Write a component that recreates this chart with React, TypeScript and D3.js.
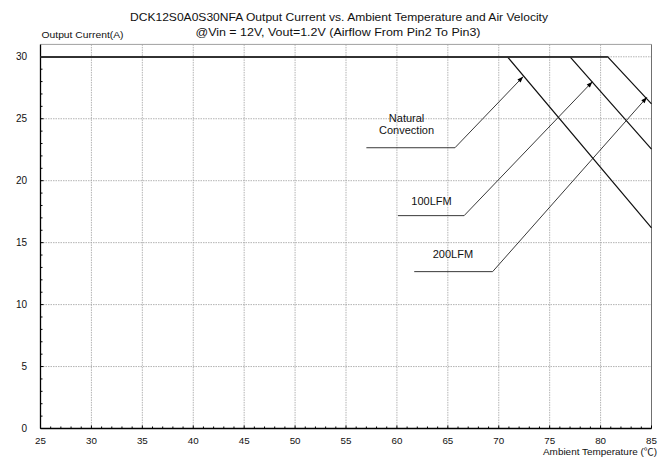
import React from "react";
import * as d3 from "d3";

const title = "DCK12S0A0S30NFA Output Current vs. Ambient Temperature and Air Velocity";
const subtitle = "@Vin = 12V, Vout=1.2V (Airflow From Pin2 To Pin3)";
const yAxisTitle = "Output Current(A)";
const xAxisTitleMain = "Ambient Temperature (";
const xAxisTitleUnit = "\u2103";
const xAxisTitleEnd = ")";

const xTicks = [25, 30, 35, 40, 45, 50, 55, 60, 65, 70, 75, 80, 85];
const yTicks = [0, 5, 10, 15, 20, 25, 30];

const seriesNames = ["Natural Convection", "100LFM", "200LFM"];
const ncTemp = [25, 70.85, 85];
const ncCurrent = [30, 30, 16.2];
const lfm100Temp = [25, 77.0, 85];
const lfm100Current = [30, 30, 22.55];
const lfm200Temp = [25, 80.7, 85];
const lfm200Current = [30, 30, 26.2];

// annotation leader lines: [tailStartT, tailEndT, tailI, tipT, tipI]
const ncLeader = [57.0, 65.7, 22.66, 72.4, 28.4];
const lfm100Leader = [60.1, 66.6, 17.18, 79.2, 27.99];
const lfm200Leader = [61.7, 69.4, 12.66, 84.55, 26.73];
// label positions [temp, current]
const ncLabelPos = [60.95, 24.7];
const lfm100LabelPos = [63.4, 18.0];
const lfm200LabelPos = [65.5, 13.75];

const W = 670;
const H = 458;
const FONT = "'Liberation Sans', Arial, Helvetica, sans-serif";

export default function App() {
  const x = d3.scaleLinear().domain([25, 85]).range([40.5, 651.5]);
  const y = d3.scaleLinear().domain([0, 31]).range([428.5, 44.4]);

  const line = d3
    .line<[number, number]>()
    .x((d) => x(d[0]))
    .y((d) => y(d[1]));

  const series = [
    { t: ncTemp, c: ncCurrent },
    { t: lfm100Temp, c: lfm100Current },
    { t: lfm200Temp, c: lfm200Current },
  ];
  const leaders = [ncLeader, lfm100Leader, lfm200Leader];

  const minorX = d3.range(25, 86, 1);
  const minorY = d3.range(0, 31, 1);

  const x0 = x(25);
  const x1 = x(85);
  const yb = y(0);
  const yt = y(31);

  const arrowHead = (l: number[]) => {
    const sx = x(l[1]);
    const sy = y(l[2]);
    const tx = x(l[3]);
    const ty = y(l[4]);
    const ang = Math.atan2(ty - sy, tx - sx);
    const len = 6;
    const wid = 2.2;
    const bx = tx - len * Math.cos(ang);
    const by = ty - len * Math.sin(ang);
    const px = -Math.sin(ang) * wid;
    const py = Math.cos(ang) * wid;
    return `M${tx},${ty}L${bx + px},${by + py}L${bx - px},${by - py}Z`;
  };

  return (
    <svg width={W} height={H} style={{ display: "block", position: "absolute", left: 0, top: 0, background: "#fff" }} fontFamily={FONT}>
      <rect x={0} y={0} width={W} height={H} fill="#fff" />
      <text x={339} y={21} textAnchor="middle" fontSize={11.5} textLength={418} lengthAdjust="spacingAndGlyphs" fill="#111">
        {title}
      </text>
      <text x={338} y={36} textAnchor="middle" fontSize={11} textLength={285} lengthAdjust="spacingAndGlyphs" fill="#111">
        {subtitle}
      </text>
      <text x={41.5} y={38} fontSize={9.5} textLength={82} lengthAdjust="spacingAndGlyphs" fill="#111">
        {yAxisTitle}
      </text>

      {/* grid */}
      {yTicks.filter((v) => v > 0).map((v) => (
        <line key={"gy" + v} x1={x0} x2={x1} y1={y(v)} y2={y(v)} stroke="#a0a0a0" strokeWidth={0.8} strokeDasharray="1.5,1" />
      ))}
      {xTicks.filter((v) => v > 25 && v < 85).map((v) => (
        <line key={"gx" + v} x1={x(v)} x2={x(v)} y1={yt} y2={yb} stroke="#a0a0a0" strokeWidth={0.8} strokeDasharray="1.5,1" />
      ))}

      {/* frame */}
      <line x1={x0} x2={x1} y1={yt} y2={yt} stroke="#a0a0a0" strokeWidth={1} />
      <line x1={x1} x2={x1} y1={yt} y2={yb} stroke="#707070" strokeWidth={1} />
      <line x1={x0} x2={x0} y1={yt} y2={yb} stroke="#000" strokeWidth={1.3} />
      <line x1={x0} x2={x1} y1={yb} y2={yb} stroke="#000" strokeWidth={1.3} />

      {/* minor ticks */}
      {minorX.map((v) => (
        <line key={"tx" + v} x1={x(v)} x2={x(v)} y1={yb} y2={yb - (v % 5 === 0 ? 3 : 2)} stroke="#000" strokeWidth={1} />
      ))}
      {minorY.map((v) => (
        <line key={"ty" + v} x1={x0} x2={x0 + (v % 5 === 0 ? 3 : 2)} y1={y(v)} y2={y(v)} stroke="#000" strokeWidth={1} />
      ))}

      {/* tick labels */}
      {xTicks.map((v) => (
        <text key={"lx" + v} x={x(v)} y={443.6} textAnchor="middle" fontSize={9.8} fill="#111">
          {v}
        </text>
      ))}
      {yTicks.map((v) => (
        <text key={"ly" + v} x={27} y={y(v) + 3.5} textAnchor="end" fontSize={10} fill="#111">
          {v}
        </text>
      ))}
      <text x={543} y={455.3} fontSize={9.2} fill="#111" textLength={114} lengthAdjust="spacingAndGlyphs">
        {xAxisTitleMain}
        <tspan fontFamily="'Noto Sans CJK SC', 'DejaVu Sans', sans-serif">{xAxisTitleUnit}</tspan>
        {xAxisTitleEnd}
      </text>

      {/* curves */}
      {series.map((s, i) => (
        <path
          key={"s" + i}
          d={line(s.t.map((t, j) => [t, s.c[j]] as [number, number])) || ""}
          fill="none"
          stroke="#111"
          strokeWidth={1.2}
        />
      ))}
      <line x1={x0} x2={x(lfm200Temp[1])} y1={y(30)} y2={y(30)} stroke="#333" strokeWidth={1.8} />

      {/* leaders */}
      {leaders.map((l, i) => (
        <g key={"ld" + i}>
          <path
            d={`M${x(l[0])},${y(l[2])}L${x(l[1])},${y(l[2])}L${x(l[3])},${y(l[4])}`}
            fill="none"
            stroke="#222"
            strokeWidth={0.9}
          />
          <path d={arrowHead(l)} fill="#000" />
        </g>
      ))}

      {/* labels */}
      <text x={x(ncLabelPos[0])} y={y(ncLabelPos[1])} textAnchor="middle" fontSize={11} fill="#111">
        Natural
      </text>
      <text x={x(ncLabelPos[0])} y={y(ncLabelPos[1]) + 12} textAnchor="middle" fontSize={11} fill="#111">
        Convection
      </text>
      <text x={x(lfm100LabelPos[0])} y={y(lfm100LabelPos[1])} textAnchor="middle" fontSize={11} fill="#111">
        {seriesNames[1]}
      </text>
      <text x={x(lfm200LabelPos[0])} y={y(lfm200LabelPos[1])} textAnchor="middle" fontSize={11} fill="#111">
        {seriesNames[2]}
      </text>
    </svg>
  );
}
